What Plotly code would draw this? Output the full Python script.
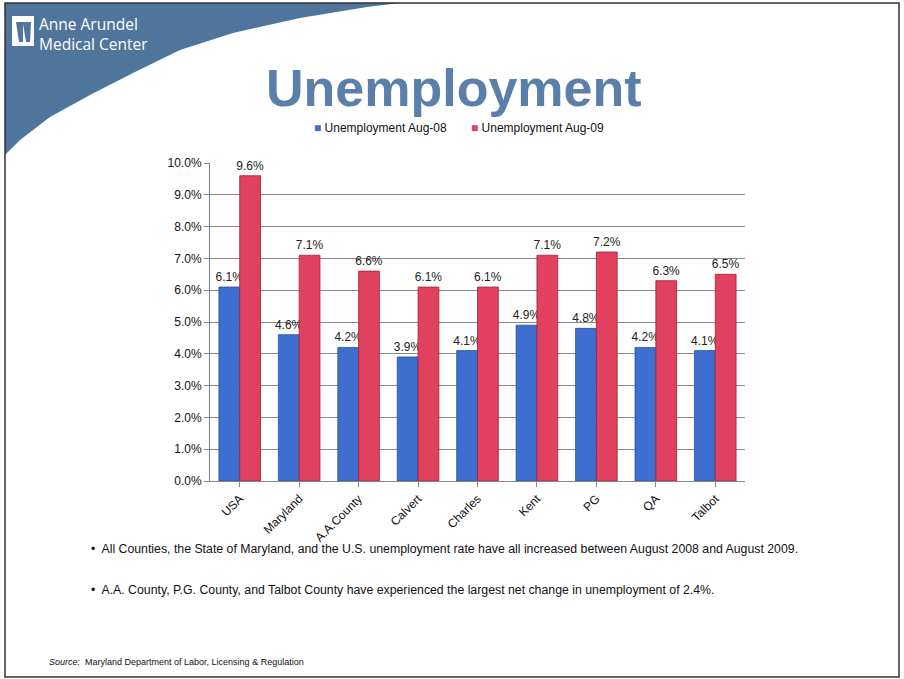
import plotly.graph_objects as go

categories = ["USA", "Maryland", "A.A.County", "Calvert", "Charles", "Kent", "PG", "QA", "Talbot"]
aug08 = [6.1, 4.6, 4.2, 3.9, 4.1, 4.9, 4.8, 4.2, 4.1]
aug09 = [9.6, 7.1, 6.6, 6.1, 6.1, 7.1, 7.2, 6.3, 6.5]
series_names = ["Unemployment Aug-08", "Unemployment Aug-09"]
y_ticks = [0, 1, 2, 3, 4, 5, 6, 7, 8, 9, 10]
bullets = [
    "All Counties, the State of Maryland, and the U.S. unemployment rate have all increased between August 2008 and August 2009.",
    "A.A. County, P.G. County, and Talbot County have experienced the largest net change in unemployment of 2.4%.",
]
source_text = "<i>Source:</i>  Maryland Department of Labor, Licensing & Regulation"

W, H = 904, 679
L, R, T, B = 210, 745, 163, 481


def px(x):
    return (x - L) / (R - L)


def py(y):
    return (B - y) / (B - T)


blue = "#3e6fd0"
red = "#e2405f"

fig = go.Figure()
fig.add_trace(go.Bar(
    x=categories, y=aug08, name=series_names[0],
    marker=dict(color=blue, line=dict(color="#2a4f9a", width=0.8)),
    text=[f"{v:.1f}%" for v in aug08], textposition="outside", constraintext="none",
    textfont=dict(size=12, color="#222", family="Arial"), cliponaxis=False,
    showlegend=False,
))
fig.add_trace(go.Bar(
    x=categories, y=aug09, name=series_names[1],
    marker=dict(color=red, line=dict(color="#9a2238", width=0.8)),
    text=[f"{v:.1f}%" for v in aug09], textposition="outside", constraintext="none",
    textfont=dict(size=12, color="#222", family="Arial"), cliponaxis=False,
    showlegend=False,
))

# swoosh header decoration
pts = [(5, 3), (400, 3), (367, 7), (300, 18), (233, 33), (180, 50), (133, 73),
       (90, 95), (50, 117), (20, 140), (5, 155)]
path = "M " + " L ".join(f"{px(x):.4f},{py(y):.4f}" for x, y in pts) + " Z"
shapes = [
    dict(type="path", xref="paper", yref="paper", path=path,
         fillcolor="#50759d", line=dict(width=0), layer="below"),
    dict(type="rect", xref="paper", yref="paper",
         x0=px(5), x1=px(899), y0=py(3), y1=py(677),
         line=dict(color="#333", width=1.5), fillcolor="rgba(0,0,0,0)"),
    # logo icon
    dict(type="rect", xref="paper", yref="paper",
         x0=px(12), x1=px(34), y0=py(16), y1=py(46),
         line=dict(width=0), fillcolor="white"),
    dict(type="path", xref="paper", yref="paper",
         path=f"M {px(16):.4f},{py(22):.4f} L {px(19):.4f},{py(42):.4f} L {px(23):.4f},{py(42):.4f} L {px(23):.4f},{py(24):.4f} L {px(26):.4f},{py(42):.4f} L {px(30):.4f},{py(42):.4f} L {px(31):.4f},{py(22):.4f} Z",
         line=dict(width=0), fillcolor="#50759d"),
]

annotations = [
    dict(text="Anne Arundel<br>Medical Center", xref="paper", yref="paper",
         x=px(37), y=py(34), xanchor="left", yanchor="middle", showarrow=False, align="left",
         font=dict(family="Open Sans", size=15.5, color="white")),
    dict(text="<b>Unemployment</b>", xref="paper", yref="paper",
         x=px(454), y=py(88), xanchor="center", yanchor="middle", showarrow=False,
         font=dict(family="Arial", size=52, color="#5a80aa")),
    dict(text=f"<span style='color:{blue}'>■</span> {series_names[0]}", xref="paper", yref="paper",
         x=px(312), y=py(128), xanchor="left", yanchor="middle", showarrow=False,
         font=dict(family="Arial", size=12, color="#111")),
    dict(text=f"<span style='color:{red}'>■</span> {series_names[1]}", xref="paper", yref="paper",
         x=px(469), y=py(128), xanchor="left", yanchor="middle", showarrow=False,
         font=dict(family="Arial", size=12, color="#111")),
    dict(text=source_text, xref="paper", yref="paper",
         x=px(47), y=py(662), xanchor="left", yanchor="middle", showarrow=False,
         font=dict(family="Arial", size=9, color="#111")),
]
for i, b in enumerate(bullets):
    annotations.append(dict(
        text="•  " + b, xref="paper", yref="paper",
        x=px(89), y=py(549 + 41 * i), xanchor="left", yanchor="middle", showarrow=False,
        font=dict(family="Arial", size=12.3, color="#111")))

fig.update_layout(
    width=W, height=H,
    margin=dict(l=L, r=W - R, t=T, b=H - B, autoexpand=False),
    paper_bgcolor="white", plot_bgcolor="white",
    barmode="group", bargap=0.3, bargroupgap=0.0,
    font=dict(family="Arial", size=12, color="#111"),
    showlegend=False,
    shapes=shapes, annotations=annotations,
    xaxis=dict(tickangle=-45, showgrid=False, showline=True, linecolor="#888",
               ticks="outside", ticklen=5, tickcolor="#888",
               tickfont=dict(size=12, family="Arial")),
    yaxis=dict(range=[0, 10], tickvals=y_ticks, ticktext=[f"{v:.1f}%" for v in y_ticks],
               showgrid=True, gridcolor="#8a8a8a", gridwidth=1,
               showline=True, linecolor="#6b7fb0", ticks="outside", ticklen=5, tickcolor="#888",
               tickfont=dict(size=12, family="Arial"), zeroline=False),
)

fig.write_html("out.html")
